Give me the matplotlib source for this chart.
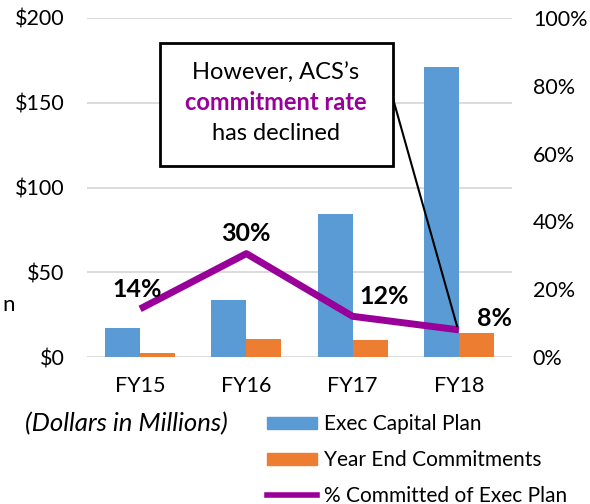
import matplotlib.pyplot as plt
from matplotlib.lines import Line2D
from matplotlib.patches import Patch
import numpy as np

plt.rcParams['font.family'] = ['Lato', 'DejaVu Sans']

years = ['FY15', 'FY16', 'FY17', 'FY18']
exec_plan = [17, 33.5, 84.5, 171]
commitments = [2.5, 10.5, 10, 14]
pct_committed = [14.2, 30.5, 12, 8]
pct_labels = ['14%', '30%', '12%', '8%']

blue = '#5B9BD5'
orange = '#ED7D31'
purple = '#990099'
grid = '#D9D9D9'

fig = plt.figure(figsize=(5.9, 5.04), dpi=100)
ax = fig.add_axes([87 / 590, 1 - 357 / 504, 425 / 590, 339 / 504])

x = np.arange(len(years))
w = 0.33
ax.bar(x - w / 2, exec_plan, w, color=blue, zorder=2)
ax.bar(x + w / 2, commitments, w, color=orange, zorder=2)
ax.set_xlim(-0.5, 3.5)
ax.set_ylim(0, 200)
ax.set_yticks([0, 50, 100, 150, 200])
ax.set_yticklabels(['$0', '$50', '$100', '$150', '$200'])
ax.yaxis.grid(True, color=grid, lw=1.3, zorder=0)
ax.set_xticks(x)
ax.set_xticklabels(years)
ax.tick_params(length=0, labelsize=15.5, pad=16)
ax.tick_params(axis='x', pad=14)
for s in ax.spines.values():
    s.set_visible(False)

ax2 = ax.twinx()
ax2.set_ylim(0, 100)
ax2.set_yticks([0, 20, 40, 60, 80, 100])
ax2.set_yticklabels([f'{v}%' for v in range(0, 101, 20)])
ax2.tick_params(length=0, labelsize=15.5, pad=15)
for s in ax2.spines.values():
    s.set_visible(False)
ax2.plot(x, pct_committed, color=purple, lw=5, solid_capstyle='butt', zorder=3)

offsets = [(-2, 6), (0, 6), (23, 6), (26, 0)]
for xi, yi, lab, off in zip(x, pct_committed, pct_labels, offsets):
    ax2.annotate(lab, (xi, yi), xytext=off, textcoords='offset points',
                 ha='center', va='bottom', fontsize=18, fontweight='bold')

# callout box
fig.add_artist(plt.Rectangle((160 / 590, 1 - 166 / 504), 233 / 590, 123 / 504,
                             transform=fig.transFigure, fill=True, fc='white',
                             ec='black', lw=2, zorder=5))
fig.add_artist(Line2D([390 / 590, 457 / 590], [1 - 88 / 504, 1 - 326 / 504],
                      transform=fig.transFigure, color='black', lw=1.5, zorder=4))
fig.text(276 / 590, 1 - 73 / 504, 'However, ACS\u2019s', ha='center', va='center',
         fontsize=17, zorder=6)
fig.text(276 / 590, 1 - 103 / 504, 'commitment rate', ha='center', va='center',
         fontsize=17, fontweight='bold', color=purple, zorder=6)
fig.text(276 / 590, 1 - 133 / 504, 'has declined', ha='center', va='center',
         fontsize=17, zorder=6)

fig.text(25 / 590, 1 - 424 / 504, '(Dollars in Millions)', ha='left', va='center',
         fontsize=18.5, style='italic')
fig.text(2 / 590, 1 - 305 / 504, 'n', ha='left', va='center', fontsize=16)

handles = [Patch(color=blue), Patch(color=orange), Line2D([], [], color=purple, lw=4)]
labels = ['Exec Capital Plan', 'Year End Commitments', '% Committed of Exec Plan']
fig.legend(handles, labels, loc='upper left', bbox_to_anchor=(257 / 590, 1 - 404 / 504),
           frameon=False, fontsize=15, handlelength=2.4, handleheight=0.5,
           handletextpad=0.3, labelspacing=0.75, borderpad=0)

fig.savefig('out.png', dpi=100)
